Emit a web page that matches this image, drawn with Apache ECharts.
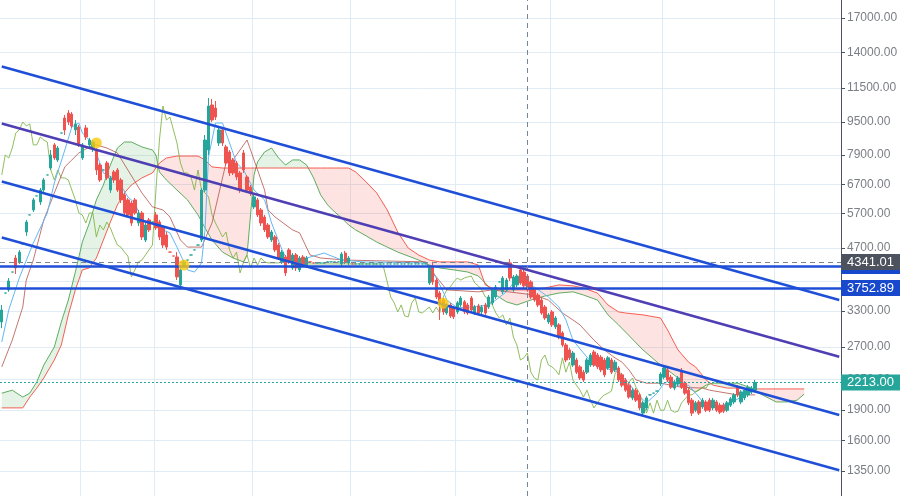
<!DOCTYPE html>
<html><head><meta charset="utf-8">
<script src="https://cdn.jsdelivr.net/npm/echarts@6/dist/echarts.min.js"></script>
<style>html,body{margin:0;padding:0;background:#fff}#c{width:903px;height:496px}</style>
</head><body><div id="c"></div>
<script>
// ---------- data ----------
const bars = Array.from({length: 240}, (_, i) => 'B' + i);
// [open, close, low, high]
const candles = [
[3105,3320,3000,3415],[3650,3650,3650,3650],[3715,3905,3675,3970],[4105,4105,4105,4105],[4440,4200,4060,4515],
[4345,4590,4295,4645],[4800,4800,4800,4800],[5135,5430,5025,5495],[5650,5650,5650,5650],[5810,6145,5745,6215],
[6285,6285,6285,6285],[6075,6495,5975,6570],[6495,6870,6425,6950],[7065,7065,7065,7065],[7345,7900,7265,8125],
[8360,7770,7685,8450],[7685,8215,7600,8310],[8935,8935,8935,8935],[9715,9090,8835,9880],[9990,9500,9345,10160],
[9935,9295,9190,10045],[9090,9400,8835,9610],[9240,8360,8265,9345],[7770,8360,7685,8450],[9190,8740,8590,9345],
[8360,8590,8215,8690],[8215,8495,8035,8590],[8125,7265,7065,8215],[7470,6870,6795,7555],[7265,7265,7265,7265],
[7555,6950,6870,7640],[6495,6950,6390,7025],[7185,6870,6755,7265],[7265,6495,6425,7345],[6870,6145,6040,6950],
[6320,5710,5585,6390],[6145,5650,5585,6215],[6040,5400,5310,6110],[6145,5710,5650,6215],[5400,5710,5310,5810],
[5710,4995,4910,5775],[4910,5340,4855,5430],[5495,5195,5135,5555],[5430,5430,5430,5430],[5650,5255,5195,5745],
[5430,4995,4910,5495],[5280,4775,4695,5340],[5050,4720,4645,5135],[4590,4590,4590,4590],[4490,4490,4490,4490],
[4465,3995,3925,4590],[3820,4155,3715,4200],[4245,4345,4200,4390],[4390,4390,4390,4390],[4515,4515,4515,4515],
[4645,4645,4645,4645],[4775,4775,4775,4775],[4910,6495,4855,6570],[6495,8590,6425,8835],[8125,10390,7900,10865],
[10450,9610,9500,10810],[10275,9770,9610,10690],[8450,9090,8310,9190],[9090,8450,8310,9190],[8265,7555,7430,8360],
[8035,7145,7025,8125],[7685,7145,7065,7770],[7555,6985,6870,7640],[7145,6495,6390,7225],[7990,7265,7145,8125],
[6985,6495,6425,7065],[6605,6390,6285,6680],[5910,6250,5840,6320],[6145,5650,5585,6215],[5810,5400,5310,5875],
[5585,5195,5135,5650],[5340,4995,4940,5400],[4910,5135,4855,5195],[4995,4645,4590,5050],[4775,4440,4390,4830],
[4345,4590,4295,4645],[4465,4085,4015,4515],[4645,4345,4295,4695],[4200,4515,4155,4565],[4515,4200,4130,4565],
[4155,4440,4105,4490],[4465,4270,4225,4515],[4245,4440,4200,4490],[4345,4345,4345,4345],[4320,4320,4320,4320],
[4320,4320,4320,4320],[4320,4320,4320,4320],[4320,4320,4320,4320],[4345,4345,4345,4345],[4345,4345,4345,4345],
[4345,4345,4345,4345],[4345,4345,4345,4345],[4295,4540,4225,4590],[4565,4345,4295,4620],[4320,4440,4270,4490],
[4295,4295,4295,4295],[4295,4295,4295,4295],[4295,4295,4295,4295],[4295,4295,4295,4295],[4295,4295,4295,4295],
[4295,4295,4295,4295],[4295,4295,4295,4295],[4295,4295,4295,4295],[4295,4295,4295,4295],[4295,4295,4295,4295],
[4295,4295,4295,4295],[4295,4295,4295,4295],[4295,4295,4295,4295],[4295,4295,4295,4295],[4295,4295,4295,4295],
[4295,4295,4295,4295],[4295,4295,4295,4295],[4295,4295,4295,4295],[4295,4295,4295,4295],[4295,4295,4295,4295],
[4295,4295,4295,4295],[4295,4295,4295,4295],
[3860,4200,3820,4245],[4225,3885,3820,4345],[3925,3570,3530,3970],[3650,3455,3140,3695],[3510,3285,3230,3550],
[3265,3415,3230,3455],[3415,3210,3175,3455],[3360,3195,3155,3395],[3285,3455,3245,3490],[3415,3550,3375,3590],
[3475,3285,3245,3510],[3415,3265,3230,3455],[3550,3320,3285,3590],[3265,3375,3230,3415],[3395,3265,3230,3435],
[3285,3375,3245,3415],[3415,3265,3230,3455],[3375,3570,3340,3610],[3455,3715,3415,3755],[3570,3775,3530,3820],
[3885,3885,3885,3885],[3675,3970,3630,4015],[3715,3925,3675,3970],[4320,3970,3905,4415],[3715,3995,3675,4040],
[3820,4015,3775,4060],[4155,3860,3820,4200],[4105,3800,3755,4155],[4015,3715,3675,4060],[3885,3570,3530,3925],
[3715,3510,3475,3755],[3610,3415,3375,3650],[3510,3265,3230,3550],[3375,3175,3140,3415],[3105,3230,3070,3265],
[3285,3055,3020,3320],[3020,3175,2985,3210],[3055,2855,2820,3085],[2920,2730,2700,2950],[2730,2510,2480,2760],
[2655,2540,2510,2685],[2440,2610,2415,2640],[2510,2345,2320,2540],[2415,2270,2245,2440],[2345,2245,2220,2375],
[2345,2510,2320,2540],[2440,2580,2415,2610],[2625,2440,2415,2655],[2580,2415,2385,2610],[2550,2375,2345,2580],
[2510,2310,2280,2540],[2400,2540,2375,2565],[2510,2345,2320,2540],[2375,2480,2345,2510],[2400,2245,2220,2425],
[2310,2180,2155,2335],[2245,2120,2100,2270],[2180,2040,2020,2205],[2030,2120,2005,2145],[2120,2005,1985,2145],
[2065,1920,1895,2085],[1865,1975,1835,1995],[1920,2030,1895,2050],[2065,2065,2065,2065],[2085,2085,2085,2085],
[2110,2110,2110,2110],[2195,2320,2170,2345],[2280,2400,2255,2425],[2375,2245,2220,2400],[2280,2155,2135,2310],
[2145,2220,2120,2245],[2195,2270,2170,2295],[2345,2155,2135,2400],[2205,2085,2065,2230],[2120,1975,1950,2145],
[2005,1865,1835,2030],[1895,1975,1875,1995],[1985,1865,1845,2005],[1930,2005,1910,2030],[1985,1895,1875,2005],
[2005,1895,1875,2030],[1920,2005,1895,2030],[1985,1895,1875,2005],[1950,1875,1855,1975],[1950,1885,1865,1975],
[1895,1975,1875,1995],[1950,2020,1930,2040],[1985,2065,1960,2085],[2155,2065,2040,2180],[1985,2100,1960,2120],
[2030,2120,2005,2145],[2065,2155,2040,2180],[2100,2145,2075,2170],[2120,2213,2100,2245]
];
// Ichimoku lines: [bar index, price]
const tenkan = [[0,2775],[2,3320],[5,3970],[9,4830],[13,5710],[15,6755],[18,8125],[20,9240],[22,9450],[23,8935],[25,8590],[27,7990],[29,7145],[33,6870],[36,6250],[38,6040],[40,5495],[43,5400],[46,5195],[48,5110],[50,4720],[53,4155],[55,4105],[57,4320],[58,5195],[59,7810],[61,9450],[63,9450],[65,8450],[67,7555],[69,7265],[72,6495],[75,6145],[77,5400],[80,4645],[81,4465],[85,4390],[92,4565],[97,4390],[103,4345],[121,4320],[124,3970],[126,3675],[127,3510],[130,3360],[134,3375],[139,3415],[141,3510],[144,3675],[146,3860],[148,3885],[152,3775],[156,3570],[159,3375],[161,3140],[163,2805],[166,2610],[169,2440],[172,2400],[176,2345],[179,2205],[181,2085],[184,1975],[187,2085],[189,2205],[191,2245],[193,2180],[196,2180],[199,2040],[201,1930],[204,1930],[208,1975],[211,2040],[214,2100],[215,2120]];
const kijun = [[0,2415],[3,2805],[6,3375],[7,3925],[9,4390],[12,5495],[15,6390],[18,7390],[20,7685],[22,7990],[25,8265],[27,8360],[30,8215],[33,7990],[36,7265],[40,6390],[43,5910],[46,5810],[48,5585],[51,4910],[53,4720],[57,4720],[60,5400],[64,7555],[66,7685],[70,8590],[71,8125],[73,7265],[75,6495],[76,5810],[78,5585],[83,5195],[85,5110],[88,4515],[91,4440],[98,4390],[121,4345],[124,3995],[127,3715],[136,3675],[140,3715],[152,3610],[156,3510],[160,3265],[163,3140],[165,3055],[169,2805],[172,2655],[175,2540],[177,2480],[179,2375],[181,2245],[184,2205],[188,2205],[191,2180],[194,2155],[200,2145],[202,2120],[207,2085],[210,2065],[215,2065]];
const cloudIdx = [0,3,6,8,10,12,15,17,19,21, 23,25,27,29,31,33,35,37,40,43, 44,45,47,50,53,56,58,60,63,66, 69,70,71,72,73,75,77,79,81,83, 85,87,89,91,93,95,97,99,101,104, 107,110,113,116,119,122,125,129,133,136, 138,141,144,147,151,155,159,163,166,170, 173,176,178,183,188,190,193,196,198,201, 203,207,210,214,217,221,224,227,229];
const senkouA = [2085,2120,2040,2085,2220,2440,2700,3105,3510,4105, 4855,5400,6145,6680,7470,8215,8495,8495,8265,8125, 7900,7185,6870,6495,6145,5650,5255,4910,4590,4440, 4345,4515,5650,7065,7600,8035,8215,7770,7470,7685, 7685,7470,6950,6320,5975,5745,5555,5340,5195,5025, 4855,4720,4590,4490,4390,4270,4200,4155,4105,4015, 3860,3610,3475,3415,3510,3590,3650,3675,3610,3510, 3230,3055,2935,2655,2440,2375,2270,2145,2100,2180, 2205,2205,2205,2145,2065,1985,1985,2005,2075];
const senkouB = [1920,1920,1920,2040,2145,2270,2510,2730,3230,3715, 4155,4200,4440,4910,5430,5975,6390,6680,6950,7145, 7345,7555,7770,7855,7855,7855,7685,7390,7345,7345, 7345,7345,7345,7345,7345,7345,7345,7345,7345,7345, 7345,7345,7345,7345,7345,7345,7345,7345,7185,6795, 6390,5810,5135,4695,4515,4390,4345,4345,4345,4270, 3820,3715,3715,3715,3715,3755,3820,3800,3755,3650, 3415,3285,3265,3230,3175,2970,2655,2480,2415,2245, 2180,2145,2145,2135,2135,2135,2135,2135,2135];
const chikouShift = 13;
// channel lines: [bar index, price]
const trendTop = [[0,12960],[239,3510]];
const trendMid = [[0,9420],[239,2555]];
const trendLow = [[0,6810],[239,1845]];
const trendBottom = [[0,4980],[239,1355]];
const levelLines = [4245, 3752.89];
const crossPrice = 4341.01;
const crossBar = 150;
const lastPrice = 2213.00;
const alerts = [[27,8450],[52,4270],[126,3450]];
const yTicks = [1150,1350,1600,1900,2250,2700,3300,3900,4700,5700,6700,7900,9500,11500,14000,17000];
const yLabels = [1150,1350,1600,1900,2250,2700,3300,4700,5700,6700,7900,9500,11500,14000,17000];
const vGrid = [23,44,72,100,130,157,189,221];

// ---------- derived ----------
const chikou = candles.slice(chikouShift).map((c, i) => [i, c[1]]);
const senkouALine = cloudIdx.map((k, i) => [k, senkouA[i]]);
const senkouBLine = cloudIdx.map((k, i) => [k, senkouB[i]]);
const cloudSegs = [];
for (let i = 0; i < cloudIdx.length - 1; i++) {
  cloudSegs.push([cloudIdx[i], senkouA[i], senkouB[i], cloudIdx[i + 1], senkouA[i + 1], senkouB[i + 1]]);
}

const UP = '#26a69a', DOWN = '#ef5350', BLUE = '#1f4fd6';
const lineS = (name, data, color, width, z) => ({
  name, type: 'line', data, showSymbol: false, symbol: 'none', silent: true, z,
  lineStyle: { color, width }, emphasis: { disabled: true }
});
const tagLabel = (bg) => ({
  show: true, position: 'end', distance: 0, color: '#fff', backgroundColor: bg,
  padding: [2, 6, 1, 6], fontSize: 13, formatter: (p) => Number(p.value).toFixed(2)
});

const chart = echarts.init(document.getElementById('c'));
chart.setOption({
  animation: false,
  backgroundColor: '#ffffff',
  textStyle: { fontFamily: 'Liberation Sans, Arial, sans-serif' },
  grid: { left: 0, right: 62, top: 0, bottom: 0 },
  xAxis: {
    type: 'category', data: bars, boundaryGap: true,
    axisLine: { show: false }, axisTick: { show: false }, axisLabel: { show: false },
    splitLine: { show: true, interval: (i) => vGrid.includes(i), lineStyle: { color: '#e1ebf3', width: 1 } }
  },
  yAxis: {
    type: 'log', logBase: 10, position: 'right', min: 1173, max: 18800,
    axisLine: { show: true, lineStyle: { color: '#4c525e', width: 1 } },
    axisTick: { show: true, customValues: yTicks, length: 4, lineStyle: { color: '#4c525e' } },
    axisLabel: { customValues: yLabels, formatter: (v) => Number(v).toFixed(2), color: '#7b7e86', fontSize: 12, margin: 6 },
    splitLine: { show: true, lineStyle: { color: '#e1ebf3', width: 1 } }
  },
  series: [
    {
      name: 'cloud', type: 'custom', data: cloudSegs, silent: true, z: 1,
      encode: { x: [0, 3], y: [1, 2, 4, 5] },
      renderItem: function (params, api) {
        const a0 = api.coord([api.value(0), api.value(1)]);
        const b0 = api.coord([api.value(0), api.value(2)]);
        const a1 = api.coord([api.value(3), api.value(4)]);
        const b1 = api.coord([api.value(3), api.value(5)]);
        const d0 = b0[1] - a0[1], d1 = b1[1] - a1[1];
        const G = 'rgba(76,175,80,0.15)', R = 'rgba(244,67,54,0.15)';
        const ch = [];
        if ((d0 >= 0 && d1 >= 0) || (d0 <= 0 && d1 <= 0)) {
          ch.push({ type: 'polygon', shape: { points: [a0, a1, b1, b0] }, style: { fill: (d0 + d1) >= 0 ? G : R } });
        } else {
          const t = d0 / (d0 - d1);
          const p = [a0[0] + (a1[0] - a0[0]) * t, a0[1] + (a1[1] - a0[1]) * t];
          ch.push({ type: 'polygon', shape: { points: [a0, p, b0] }, style: { fill: d0 > 0 ? G : R } });
          ch.push({ type: 'polygon', shape: { points: [p, a1, b1] }, style: { fill: d1 > 0 ? G : R } });
        }
        return { type: 'group', children: ch };
      }
    },
    lineS('senkouA', senkouALine, 'rgba(67,160,71,0.85)', 1, 2),
    lineS('senkouB', senkouBLine, 'rgba(244,67,54,0.85)', 1, 2),
    lineS('chikou', chikou, 'rgba(124,179,66,0.85)', 1, 2),
    lineS('kijun', kijun, 'rgba(176,72,66,0.75)', 1, 3),
    lineS('tenkan', tenkan, '#62b8f4', 1, 3),
    {
      name: 'price', type: 'candlestick', data: candles, barWidth: 2.8, silent: true, z: 4,
      itemStyle: { color: UP, color0: DOWN, borderColor: UP, borderColor0: DOWN, borderWidth: 1 }
    },
    lineS('trendTop', trendTop, BLUE, 2.5, 6),
    lineS('trendMid', trendMid, '#4f3fb4', 2.5, 6),
    lineS('trendLow', trendLow, BLUE, 2.5, 6),
    lineS('trendBottom', trendBottom, BLUE, 2.5, 6),
    {
      name: 'levels', type: 'line', data: [], z: 6, silent: true,
      markLine: {
        silent: true, symbol: ['none', 'none'], animation: false,
        lineStyle: { color: BLUE, width: 2.5, type: 'solid' },
        label: tagLabel('#1848cc'),
        data: levelLines.map(v => ({ yAxis: v }))
      }
    },
    {
      name: 'last', type: 'line', data: [], z: 7, silent: true,
      markLine: {
        silent: true, symbol: ['none', 'none'], animation: false,
        lineStyle: { color: UP, width: 1, type: [2, 2] },
        label: tagLabel(UP),
        data: [{ yAxis: lastPrice }]
      }
    },
    {
      name: 'cross', type: 'line', data: [], z: 8, silent: true,
      markLine: {
        silent: true, symbol: ['none', 'none'], animation: false,
        lineStyle: { color: '#758696', width: 1, type: [5, 4] },
        data: [
          { yAxis: crossPrice, label: tagLabel('#4c525e') },
          { xAxis: crossBar, label: { show: false } }
        ]
      }
    },
    {
      name: 'alerts', type: 'scatter', data: alerts, symbolSize: 11, z: 9, silent: true,
      itemStyle: { color: '#f9c80e' }
    }
  ]
});
</script>
</body></html>
